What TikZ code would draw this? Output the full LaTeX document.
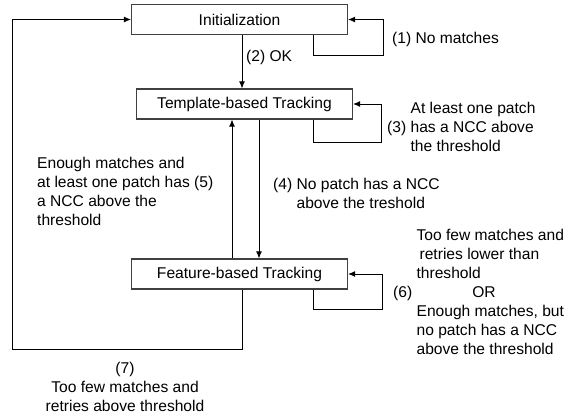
\documentclass[tikz,border=0pt]{standalone}
\usepackage{fontspec}
\setmainfont{Liberation Sans}
\usetikzlibrary{arrows.meta}

\begin{document}
\begin{tikzpicture}[x=1pt, y=-1pt,
    box/.style={draw=black!75, line width=1.2pt, minimum width=216pt, minimum height=30pt, inner sep=0pt},
    lbl/.style={align=left, inner sep=0pt, anchor=west},
    arr/.style={-{Latex[length=7pt, width=6pt]}, line width=0.9pt},
    every node/.style={font=\fontsize{15.6}{19}\selectfont}]
    \useasboundingbox (0, 0) rectangle (578, 417);

    \node [box] (init) at (239.5, 19.5) {Initialization};
    \node [box] (tpl) at (244.5, 104) {Template-based Tracking};
    \node [box] (feat) at (239.5, 274) {Feature-based Tracking};

    % (1) and (2)
    \draw [arr] ([xshift=-35]init.south east) |- (383, 55) |- (init.east);
    \coordinate (a2) at ([xshift=2.5]init.south);
    \draw [arr] (a2) -- (a2 |- tpl.north);

    % (3)
    \draw [arr] ([xshift=-40]tpl.south east) |- (381, 142) |- (tpl.east);

    % (4) and (5)
    \coordinate (a4) at ([xshift=14.5]tpl.south);
    \draw [arr] (a4) -- (a4 |- feat.north);
    \coordinate (a5) at ([xshift=-7.5]feat.north);
    \draw [arr] (a5) -- (a5 |- tpl.south);

    % (6) and (7)
    \draw [arr] ([xshift=-35]feat.south east) |- (382, 309) |- (feat.east);
    \draw [arr] ([xshift=2.5]feat.south) |- (12, 349) |- (init.west);

    \node [lbl] (l1) at (392, 39) {(1) No matches};
    \node [lbl] (l2) at (246, 57) {(2) OK};
    \node [lbl] (l3) at (387, 127) {\hphantom{(3) }At least one patch\\(3) has a NCC above\\\hphantom{(3) }the threshold};
    \node [lbl] (l4) at (273, 193) {(4) No patch has a NCC\\\hphantom{(4) }above the treshold};
    \node [lbl] (l5) at (37, 191.5) {Enough matches and\\at least one patch has (5)\\a NCC above the\\threshold};
    \node [lbl] (l6) at (393, 291.5) {\hphantom{(6) }Too few matches and\\\hphantom{(6) }\hspace{3pt}retries lower than\\\hphantom{(6) }threshold\\(6)\hspace{60pt}OR\\\hphantom{(6) }Enough matches, but\\\hphantom{(6) }no patch has a NCC\\\hphantom{(6) }above the threshold};
    \node [align=center, inner sep=0pt] (l7) at (125, 387) {(7)\\Too few matches and\\retries above threshold};
\end{tikzpicture}
\end{document}
